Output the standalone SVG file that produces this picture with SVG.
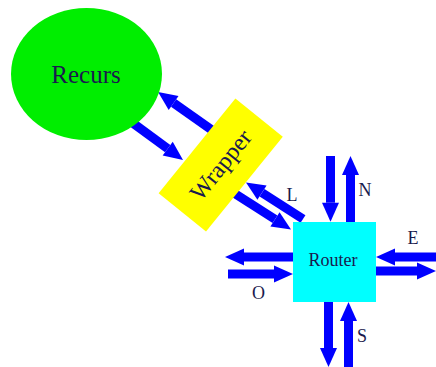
<svg xmlns="http://www.w3.org/2000/svg" width="436" height="367" viewBox="0 0 436 367">
  <style>
    .lbl { font-family: "Liberation Serif", "Times New Roman", serif; fill: #1a1a4e; }
    .flow { stroke: #0000ff; stroke-width: 9; fill: none; marker-end: url(#head); }
  </style>
  <defs>
    <marker id="head" markerUnits="userSpaceOnUse" markerWidth="20" markerHeight="18" refX="0" refY="9" orient="auto" viewBox="0 0 20 18" overflow="visible">
      <path d="M0,0.5 L19,9 L0,17.5 Z" fill="#0000ff"/>
    </marker>
  </defs>
  <rect width="436" height="367" fill="#ffffff"/>

  <!-- connectors: each line stops at the arrowhead base, the marker draws the tip -->
  <g id="connectors">
    <line class="flow" x1="214" y1="131.5" x2="173.6" y2="103"/>
    <line class="flow" x1="128" y1="119.5" x2="167.7" y2="148.7"/>
    <line class="flow" x1="303" y1="219" x2="262" y2="192.7"/>
    <line class="flow" x1="230" y1="190.5" x2="275" y2="219.3"/>
    <line class="flow" x1="330.5" y1="156" x2="330.5" y2="202.7"/>
    <line class="flow" x1="350.5" y1="226" x2="350.5" y2="175"/>
    <line class="flow" x1="440" y1="257" x2="395" y2="257"/>
    <line class="flow" x1="372" y1="271" x2="417" y2="271"/>
    <line class="flow" x1="297" y1="257" x2="244" y2="257"/>
    <line class="flow" x1="228" y1="274" x2="274" y2="274"/>
    <line class="flow" x1="328.5" y1="298" x2="328.5" y2="348"/>
    <line class="flow" x1="348.5" y1="370" x2="348.5" y2="321"/>
  </g>

  <g id="recurs">
    <ellipse cx="86.5" cy="74" rx="75.5" ry="66" fill="#00ee00"/>
    <text class="lbl" x="86" y="83" font-size="25" text-anchor="middle">Recurs</text>
  </g>

  <g id="wrapper" transform="translate(220.7,165) rotate(-51)">
    <rect x="-61" y="-30.5" width="122" height="61" fill="#ffff00"/>
    <text class="lbl" x="0" y="8" font-size="24" text-anchor="middle">Wrapper</text>
  </g>

  <g id="router">
    <rect x="293" y="222" width="83" height="80" fill="#00ffff"/>
    <text class="lbl" x="333" y="266" font-size="18" text-anchor="middle">Router</text>
  </g>

  <g id="port-labels">
    <text class="lbl" x="292" y="201" font-size="18" text-anchor="middle">L</text>
    <text class="lbl" x="365" y="196" font-size="18" text-anchor="middle">N</text>
    <text class="lbl" x="413" y="244" font-size="18" text-anchor="middle">E</text>
    <text class="lbl" x="258.5" y="299" font-size="18" text-anchor="middle">O</text>
    <text class="lbl" x="362" y="342" font-size="18" text-anchor="middle">S</text>
  </g>
</svg>
